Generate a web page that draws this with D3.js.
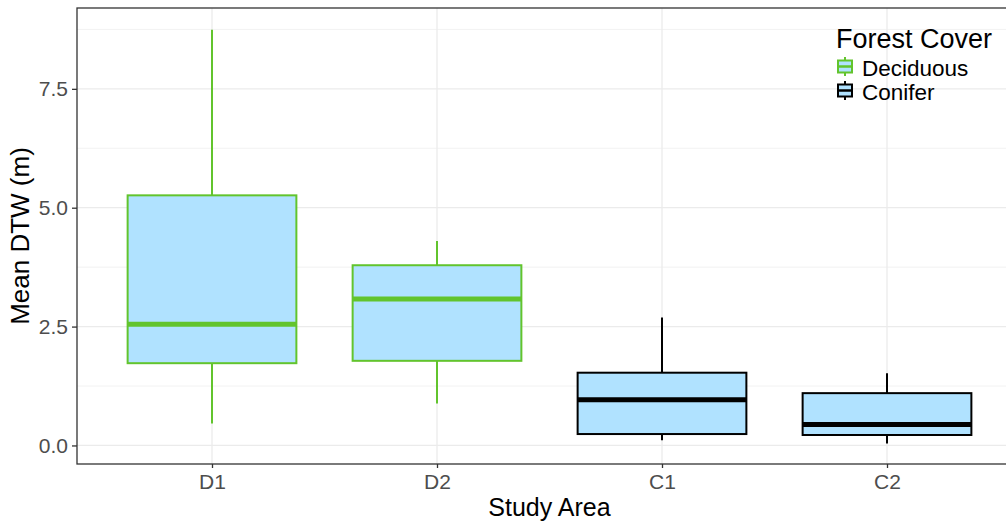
<!DOCTYPE html>
<meta charset="utf-8">
<script src="https://d3js.org/d3.v7.min.js"></script>
<style>
  body { margin: 0; background: #fff; }
  text { font-family: "Liberation Sans", Arial, sans-serif; }
</style>
<div id="chart"></div>
<script>

// study areas and forest cover group
var areas = ["D1", "D2", "C1", "C2"];
var cover = ["Deciduous", "Deciduous", "Conifer", "Conifer"];

// box statistics (m)
var whiskerLow  = [0.46, 0.88, 0.11, 0.04];
var q1          = [1.73, 1.78, 0.24, 0.22];
var median      = [2.55, 3.08, 0.96, 0.44];
var q3          = [5.26, 3.79, 1.53, 1.10];
var whiskerHigh = [8.74, 4.30, 2.69, 1.52];

var yTicks = [0, 2.5, 5, 7.5];
var yMinor = [1.25, 3.75, 6.25, 8.75];

var legendItems = ["Deciduous", "Conifer"];
var strokeColor = {Deciduous: "#62c42d", Conifer: "#000000"};
var boxFill = "#b0e2ff";

var width = 1006, height = 523;
var panel = {left: 77, top: 8, right: 1022, bottom: 464};

var svg = d3.select("#chart")
  .append("svg")
    .attr("width", width)
    .attr("height", height);

var x = d3.scalePoint()
  .domain(areas)
  .range([panel.left, panel.right])
  .padding(0.6);

var y = d3.scaleLinear()
  .domain([-0.39, 9.2])
  .range([panel.bottom, panel.top]);

var boxW = x.step() * 0.75;

// grid lines
svg.append("g")
  .selectAll("line")
  .data(yMinor)
  .enter()
  .append("line")
    .attr("x1", panel.left).attr("x2", panel.right)
    .attr("y1", function(d) { return y(d); })
    .attr("y2", function(d) { return y(d); })
    .attr("stroke", "#f2f2f2")
    .attr("stroke-width", 1);

svg.append("g")
  .selectAll("line")
  .data(yTicks)
  .enter()
  .append("line")
    .attr("x1", panel.left).attr("x2", panel.right)
    .attr("y1", function(d) { return y(d); })
    .attr("y2", function(d) { return y(d); })
    .attr("stroke", "#ebebeb")
    .attr("stroke-width", 1.3);

svg.append("g")
  .selectAll("line")
  .data(areas)
  .enter()
  .append("line")
    .attr("x1", function(d) { return x(d); })
    .attr("x2", function(d) { return x(d); })
    .attr("y1", panel.top).attr("y2", panel.bottom)
    .attr("stroke", "#ebebeb")
    .attr("stroke-width", 1.3);

// boxes
var boxes = svg.append("g")
  .selectAll("g")
  .data(areas)
  .enter()
  .append("g");

boxes.append("line")
  .attr("x1", function(d) { return x(d); })
  .attr("x2", function(d) { return x(d); })
  .attr("y1", function(d, i) { return y(whiskerHigh[i]); })
  .attr("y2", function(d, i) { return y(q3[i]); })
  .attr("stroke", function(d, i) { return strokeColor[cover[i]]; })
  .attr("stroke-width", 2);

boxes.append("line")
  .attr("x1", function(d) { return x(d); })
  .attr("x2", function(d) { return x(d); })
  .attr("y1", function(d, i) { return y(q1[i]); })
  .attr("y2", function(d, i) { return y(whiskerLow[i]); })
  .attr("stroke", function(d, i) { return strokeColor[cover[i]]; })
  .attr("stroke-width", 2);

boxes.append("rect")
  .attr("x", function(d) { return x(d) - boxW / 2; })
  .attr("width", boxW)
  .attr("y", function(d, i) { return y(q3[i]); })
  .attr("height", function(d, i) { return y(q1[i]) - y(q3[i]); })
  .attr("fill", boxFill)
  .attr("stroke", function(d, i) { return strokeColor[cover[i]]; })
  .attr("stroke-width", 2);

boxes.append("line")
  .attr("x1", function(d) { return x(d) - boxW / 2; })
  .attr("x2", function(d) { return x(d) + boxW / 2; })
  .attr("y1", function(d, i) { return y(median[i]); })
  .attr("y2", function(d, i) { return y(median[i]); })
  .attr("stroke", function(d, i) { return strokeColor[cover[i]]; })
  .attr("stroke-width", 5);

// panel border
svg.append("rect")
  .attr("x", panel.left)
  .attr("y", panel.top)
  .attr("width", panel.right - panel.left)
  .attr("height", panel.bottom - panel.top)
  .attr("fill", "none")
  .attr("stroke", "#333333")
  .attr("stroke-width", 1.3);

// axes
var yAxis = svg.append("g")
  .attr("transform", "translate(" + panel.left + ",0)")
  .call(d3.axisLeft(y).tickValues(yTicks).tickFormat(d3.format(".1f")).tickSize(5).tickPadding(4));
var xAxis = svg.append("g")
  .attr("transform", "translate(0," + panel.bottom + ")")
  .call(d3.axisBottom(x).tickSize(4).tickPadding(6));

[yAxis, xAxis].forEach(function(a) {
  a.select(".domain").remove();
  a.selectAll(".tick line").attr("stroke", "#333333").attr("stroke-width", 1.3);
  a.selectAll(".tick text")
    .attr("fill", "#4d4d4d")
    .style("font-size", "21px")
    .style("font-family", "'Liberation Sans', Arial, sans-serif");
});

// axis titles
svg.append("text")
  .attr("x", (panel.left + panel.right) / 2)
  .attr("y", 516)
  .attr("text-anchor", "middle")
  .style("font-size", "25px")
  .text("Study Area");

svg.append("text")
  .attr("transform", "translate(29," + (panel.top + panel.bottom) / 2 + ") rotate(-90)")
  .attr("text-anchor", "middle")
  .style("font-size", "26px")
  .text("Mean DTW (m)");

// legend
var legend = svg.append("g");
legend.append("text")
  .attr("x", 836)
  .attr("y", 48)
  .style("font-size", "27px")
  .text("Forest Cover");

var keys = legend.selectAll(".key")
  .data(legendItems)
  .enter()
  .append("g")
    .attr("class", "key")
    .attr("transform", function(d, i) { return "translate(837," + (57 + i * 24) + ")"; });

keys.append("line")
  .attr("x1", 8).attr("x2", 8).attr("y1", 0).attr("y2", 19)
  .attr("stroke", function(d) { return strokeColor[d]; })
  .attr("stroke-width", 2);
keys.append("rect")
  .attr("x", 1).attr("y", 3.5).attr("width", 14).attr("height", 12)
  .attr("fill", boxFill)
  .attr("stroke", function(d) { return strokeColor[d]; })
  .attr("stroke-width", 2);
keys.append("line")
  .attr("x1", 1).attr("x2", 15).attr("y1", 9.5).attr("y2", 9.5)
  .attr("stroke", function(d) { return strokeColor[d]; })
  .attr("stroke-width", 2.5);
keys.append("text")
  .attr("x", 25)
  .attr("y", 19)
  .style("font-size", "22.5px")
  .text(function(d) { return d; });

</script>
